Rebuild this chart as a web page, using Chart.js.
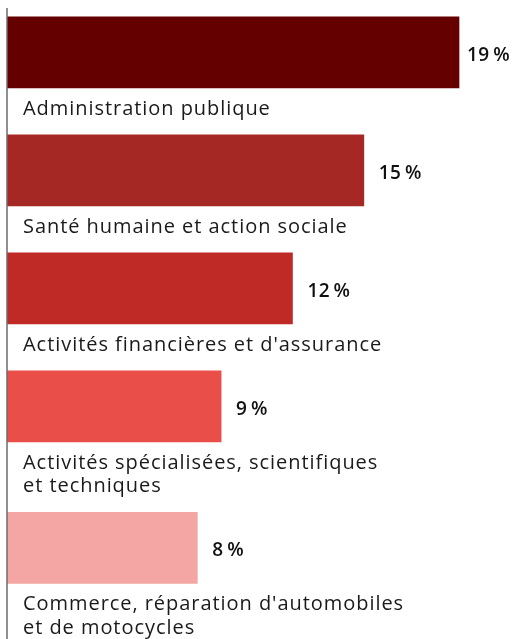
<!DOCTYPE html>
<html>
<head>
<meta charset="utf-8">
<script src="https://cdn.jsdelivr.net/npm/chart.js@4.4.1/dist/chart.umd.min.js"></script>
<style>
  html, body { margin: 0; padding: 0; background: #fff; }
  #wrap { width: 528px; height: 639px; }
</style>
</head>
<body>
<div id="wrap"><canvas id="chart" width="528" height="639"></canvas></div>
<script>
// Données
const categories = [
    ["Administration publique"],
    ["Santé humaine et action sociale"],
    ["Activités financières et d'assurance"],
    ["Activités spécialisées, scientifiques", "et techniques"],
    ["Commerce, réparation d'automobiles", "et de motocycles"]
];
const values = [19, 15, 12, 9, 8];
const barColors = ["#640000", "#a62824", "#c02a26", "#e94f48", "#f3a6a3"];

// rangées : 3 pour la barre, une par ligne de libellé, une d'espace
const BAR_ROWS = 3;
const centers = [];
let start = 0;
categories.forEach(lines => {
    centers.push(start + BAR_ROWS / 2);
    start += BAR_ROWS + lines.length + 1;
});

const points = values.map((v, i) => ({ x: v, y: centers[i] }));

const FONT = "'Open Sans', sans-serif";

const labelsPlugin = {
    id: "labels",
    afterDatasetsDraw(chart) {
        const ctx = chart.ctx;
        const meta = chart.getDatasetMeta(0);
        const x0 = chart.scales.x.getPixelForValue(0);
        ctx.save();
        // axe vertical
        ctx.strokeStyle = "#6b6b6b";
        ctx.lineWidth = 1.5;
        ctx.beginPath();
        ctx.moveTo(x0, chart.chartArea.top);
        ctx.lineTo(x0, chart.chartArea.bottom);
        ctx.stroke();

        meta.data.forEach((bar, i) => {
            const bottom = bar.y + bar.height / 2;
            // valeur (collée au bord droit si besoin)
            const txt = values[i] + "\u2009%";
            ctx.fillStyle = "#111";
            ctx.font = "600 19px " + FONT;
            ctx.letterSpacing = "0.4px";
            ctx.textAlign = "left";
            ctx.textBaseline = "middle";
            const w = ctx.measureText(txt).width;
            const vx = Math.min(bar.x + 15, chart.width - 18 - w);
            ctx.fillText(txt, vx, bar.y + 3);
            // libellé
            ctx.fillStyle = "#1a1a1a";
            ctx.font = "20px " + FONT;
            ctx.letterSpacing = "0.95px";
            ctx.textBaseline = "alphabetic";
            categories[i].forEach((line, k) => {
                ctx.fillText(line, x0 + 16, bottom + 27 + k * 23.6);
            });
        });
        ctx.restore();
    }
};

new Chart(document.getElementById("chart"), {
    type: "bar",
    data: {
        datasets: [{
            data: points,
            backgroundColor: barColors,
            borderWidth: 0,
            barThickness: 71
        }]
    },
    options: {
        indexAxis: "y",
        responsive: false,
        animation: false,
        layout: { padding: { left: 7, top: 8, right: 0, bottom: 0 } },
        plugins: {
            legend: { display: false },
            tooltip: { enabled: false }
        },
        scales: {
            x: { type: "linear", min: 0, max: 21.9, display: false },
            y: { type: "linear", min: -0.38, max: 26.36, reverse: true, offset: false, display: false }
        }
    },
    plugins: [labelsPlugin]
});
</script>
</body>
</html>
